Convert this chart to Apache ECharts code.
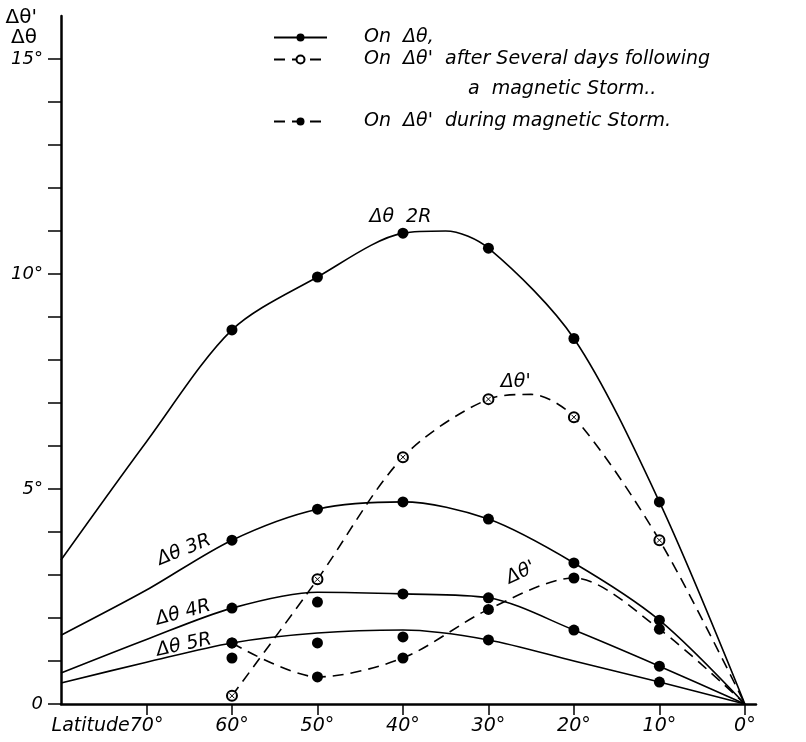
<!DOCTYPE html>
<html>
<head>
<meta charset="utf-8">
<script src="https://cdn.jsdelivr.net/npm/echarts@6.0.0/dist/echarts.min.js"></script>
<style>
  html, body { margin: 0; padding: 0; background: #fff; }
  #chart { width: 806px; height: 742px; }
</style>
</head>
<body>
<div id="chart"></div>
<script>
// latitude (deg) / value pairs; 80 = left edge of the plot
var theta2R = [[80, 3.35], [70, 6.1], [60, 8.7], [50, 9.93], [40, 10.95], [35, 11.0], [30, 10.6], [20, 8.5], [10, 4.7], [0, 0]];
var theta3R = [[80, 1.6], [70, 2.65], [60, 3.81], [50, 4.53], [40, 4.7], [30, 4.3], [20, 3.28], [10, 1.95], [0, 0]];
var theta4R = [[80, 0.72], [70, 1.5], [60, 2.23], [50, 2.6], [40, 2.56], [30, 2.47], [20, 1.72], [10, 0.88], [0, 0]];
var theta5R = [[80, 0.49], [70, 0.97], [60, 1.42], [50, 1.65], [40, 1.72], [30, 1.49], [20, 1.0], [10, 0.51], [0, 0]];
var afterStorm = [[60, 0.19], [50, 2.9], [40, 5.74], [30, 7.09], [25, 7.2], [20, 6.67], [10, 3.81], [0, 0]];
var duringStorm = [[60, 1.42], [50, 0.63], [40, 1.07], [30, 2.2], [20, 2.93], [10, 1.74], [0, 0]];
var extraDots = [[60, 1.07], [50, 2.37], [50, 1.42], [40, 1.56]];

// latitudes where a measured dot is drawn for each curve
var dots2R = [60, 50, 40, 30, 20, 10];
var dots3R = [60, 50, 40, 30, 20, 10];
var dots4R = [60, 40, 30, 20, 10];
var dots5R = [60, 30, 10];
var dotsAfter = [60, 50, 40, 30, 20, 10];
var dotsDuring = [60, 50, 40, 30, 20, 10];

var xLabels = [0, 10, 20, 30, 40, 50, 60, 70];
var yTicks = [0, 1, 2, 3, 4, 5, 6, 7, 8, 9, 10, 11, 12, 13, 14, 15];
var yLabels = [0, 5, 10, 15];

var legendNames = ['on dt', 'on dt after', 'on dt during'];

var FONT = 'DejaVu Sans';

function withDots(pairs, dots) {
    return pairs.map(function (p) {
        return dots.indexOf(p[0]) >= 0 ? { value: p } : { value: p, symbol: 'none' };
    });
}

function note(text, coord, rotate) {
    return {
        name: text,
        coord: coord,
        symbol: 'circle',
        symbolSize: 1,
        itemStyle: { color: 'rgba(0,0,0,0)' },
        label: {
            show: true, position: 'inside', formatter: '{b}', rotate: rotate || 0,
            color: '#000', fontFamily: FONT, fontStyle: 'italic', fontSize: 19
        }
    };
}

function curve(name, data, dashed, notes) {
    return {
        name: name,
        type: 'line',
        data: data,
        smooth: 0.3,
        symbol: 'circle',
        symbolSize: 11,
        itemStyle: { color: '#000', opacity: 1 },
        lineStyle: { color: '#000', width: 1.6, type: dashed ? [11, 7] : 'solid' },
        z: 3,
        markPoint: notes ? { silent: true, data: notes } : undefined
    };
}

var myChart = echarts.init(document.getElementById('chart'));

var legendText = {
    color: '#000', fontFamily: FONT, fontStyle: 'italic', fontSize: 19,
    padding: [0, 0, 0, 32]
};

var option = {
    backgroundColor: '#fff',
    animation: false,
    textStyle: { fontFamily: FONT },
    legend: [
        {
            data: [legendNames[0]], left: 268, top: 23, itemWidth: 53, itemHeight: 10,
            textStyle: legendText, formatter: function () { return 'On  Δθ,'; }
        },
        {
            data: [legendNames[1]], left: 268, top: 45, itemWidth: 53, itemHeight: 10,
            textStyle: legendText, formatter: function () { return 'On  Δθ\'  after Several days following'; }
        },
        {
            data: [legendNames[2]], left: 268, top: 107, itemWidth: 53, itemHeight: 10,
            textStyle: legendText, formatter: function () { return 'On  Δθ\'  during magnetic Storm.'; }
        }
    ],
    graphic: [
        {
            type: 'text', left: 468, top: 80,
            style: { text: 'a  magnetic Storm..', fill: '#000', font: 'italic 19px "DejaVu Sans"' }
        }
    ],
    grid: { left: 61, right: 50, top: 16, bottom: 38 },
    xAxis: {
        type: 'value',
        inverse: true,
        min: -1.3,
        max: 80,
        splitLine: { show: false },
        axisLine: { show: true, onZero: false, lineStyle: { color: '#000', width: 2.5 } },
        axisTick: { show: true, length: 11, customValues: xLabels, lineStyle: { color: '#000', width: 1.5 } },
        axisLabel: {
            customValues: xLabels,
            margin: 13,
            color: '#000', fontFamily: FONT, fontStyle: 'italic', fontSize: 19,
            formatter: function (v) {
                return v === 70 ? '{lat|Latitude}70°{pad|}' : v + '°';
            },
            rich: {
                lat: { color: '#000', fontFamily: FONT, fontStyle: 'italic', fontSize: 19 },
                pad: { width: 78 }
            }
        }
    },
    yAxis: {
        type: 'value',
        position: 'left',
        min: 0,
        max: 16,
        name: 'Δθ\'\nΔθ',
        nameLocation: 'end',
        nameGap: 8,
        nameTextStyle: {
            color: '#000', fontFamily: FONT, fontSize: 20, lineHeight: 20,
            align: 'right', verticalAlign: 'top', padding: [0, 24, 0, 0]
        },
        splitLine: { show: false },
        axisLine: { show: true, onZero: false, lineStyle: { color: '#000', width: 2.5 } },
        axisTick: { show: true, length: 13, customValues: yTicks, lineStyle: { color: '#000', width: 1.5 } },
        axisLabel: {
            customValues: yLabels,
            margin: 18,
            color: '#000', fontFamily: FONT, fontStyle: 'italic', fontSize: 18,
            formatter: function (v) { return v === 0 ? '0' : v + '°'; }
        }
    },
    series: [
        curve(legendNames[0], withDots(theta2R, dots2R), false, [note('Δθ  2R', [40.3, 11.33])]),
        curve(legendNames[0], withDots(theta3R, dots3R), false, [note('Δθ 3R', [65.6, 3.58], 22)]),
        curve(legendNames[0], withDots(theta4R, dots4R), false, [note('Δθ 4R', [65.7, 2.12], 15)]),
        curve(legendNames[0], withDots(theta5R, dots5R), false, [note('Δθ 5R', [65.6, 1.37], 12)]),
        (function () {
            var s = curve(legendNames[1], withDots(afterStorm, dotsAfter), true, [note('Δθ\'', [26.8, 7.49])]);
            s.symbol = 'emptyCircle';
            s.symbolSize = 10;
            s.itemStyle = { color: '#000', borderColor: '#000', borderWidth: 1.5, opacity: 1 };
            return s;
        })(),
        curve(legendNames[2], withDots(duringStorm, dotsDuring), true, [note('Δθ\'', [26.2, 3.05], 25)]),
        {
            // crosses inside the open circles
            type: 'scatter',
            silent: true,
            data: afterStorm.filter(function (p) { return dotsAfter.indexOf(p[0]) >= 0; }),
            symbol: 'path://M0,0L10,10M10,0L0,10',
            symbolSize: 5,
            itemStyle: { color: 'rgba(0,0,0,0)', borderColor: '#000', borderWidth: 1, opacity: 1 },
            z: 4
        },
        {
            name: legendNames[0],
            type: 'scatter',
            data: extraDots,
            symbol: 'circle',
            symbolSize: 11,
            itemStyle: { color: '#000', opacity: 1 },
            z: 3
        }
    ]
};

myChart.setOption(option);
</script>
</body>
</html>
